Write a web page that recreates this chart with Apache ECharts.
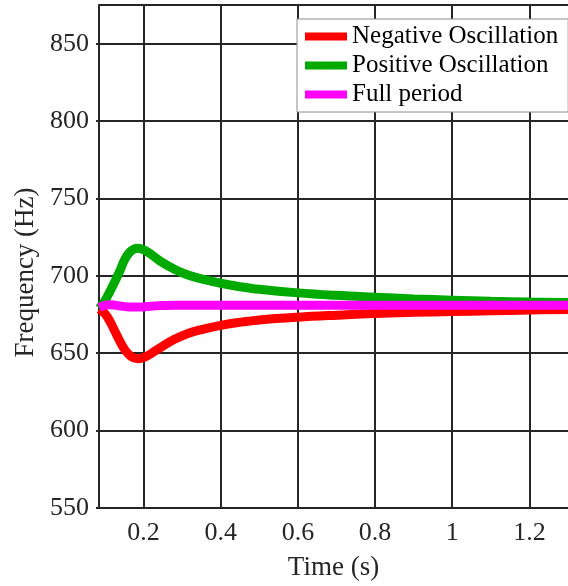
<!DOCTYPE html>
<html>
<head>
<meta charset="utf-8">
<script src="https://cdn.jsdelivr.net/npm/echarts@6/dist/echarts.min.js"></script>
<style>
  html, body { margin: 0; padding: 0; background: #fff; }
  #chart { width: 568px; height: 586px; }
</style>
</head>
<body>
<div id="chart"></div>
<script>
// time axis (s)
var timeValues = [0.085, 0.1, 0.113, 0.126, 0.14, 0.152, 0.165, 0.175, 0.185, 0.195, 0.21, 0.23, 0.246, 0.28, 0.315, 0.35, 0.4, 0.45, 0.5, 0.6, 0.7, 0.8, 0.9, 1.0, 1.1, 1.2, 1.3];
// frequency (Hz)
var negativeOsc = [678.5, 675.5, 670.5, 664, 657, 652, 648.5, 647, 646.5, 646.8, 648.3, 651.5, 654, 659, 662.8, 665.3, 668, 670, 671.5, 673.3, 674.6, 675.7, 676.4, 676.9, 677.4, 677.9, 678.3];
var positiveOsc = [679, 684, 690, 696.5, 704, 711, 715.5, 717.3, 717.8, 717.3, 715.5, 712, 709, 704.3, 700.5, 698, 695.2, 693, 691.3, 689, 687.4, 686.2, 685.1, 684.3, 683.6, 683.1, 682.7];
var fullPeriod = [679.5, 681, 681.4, 681.1, 680.5, 680.1, 679.9, 679.8, 679.8, 679.9, 680.2, 680.6, 680.8, 681, 681, 681, 681, 681, 681, 681, 681, 681, 681, 681, 681, 681, 681];
var xTicks = [0.2, 0.4, 0.6, 0.8, 1, 1.2];
var seriesNames = ['Negative Oscillation', 'Positive Oscillation', 'Full period'];
var colors = ['#ff0000', '#00aa00', '#ff00ff'];

function pairs(ys) {
    return timeValues.map(function (t, i) { return [t, ys[i]]; });
}

var font = "'Liberation Serif', 'Times New Roman', serif";
var dark = '#262626';

var myChart = echarts.init(document.getElementById('chart'));
var option = {
    backgroundColor: '#fff',
    animation: false,
    grid: { left: 99, top: 5, right: -1, bottom: 78 },
    legend: {
        orient: 'vertical',
        left: 297,
        top: 19,
        padding: [5, 10, 5, 8],
        itemGap: 4,
        itemWidth: 42,
        itemHeight: 8,
        icon: 'rect',
        backgroundColor: '#fff',
        borderColor: '#8c8c8c',
        borderWidth: 1,
        borderRadius: 0,
        textStyle: { fontFamily: font, fontSize: 25, color: '#000', lineHeight: 24 },
        data: seriesNames
    },
    xAxis: {
        type: 'value',
        min: 0.0845,
        max: 1.3,
        name: 'Time (s)',
        nameLocation: 'middle',
        nameGap: 46,
        nameTextStyle: { fontFamily: font, fontSize: 27, color: dark },
        axisLine: { show: true, lineStyle: { color: dark, width: 2 } },
        axisTick: { show: false, customValues: xTicks },
        axisLabel: { customValues: xTicks, fontFamily: font, fontSize: 26, color: dark, margin: 12 },
        splitLine: { show: true, lineStyle: { color: dark, width: 2 } }
    },
    yAxis: {
        type: 'value',
        min: 550,
        max: 875,
        interval: 50,
        name: 'Frequency (Hz)',
        nameLocation: 'middle',
        nameGap: 58,
        nameTextStyle: { fontFamily: font, fontSize: 27, color: dark, padding: [0, 32, 0, 0] },
        axisLine: { show: true, lineStyle: { color: dark, width: 2 } },
        axisTick: { show: true, length: 3, lineStyle: { color: dark, width: 2 } },
        axisLabel: { showMaxLabel: false, fontFamily: font, fontSize: 26, color: dark, margin: 10 },
        splitLine: { show: true, lineStyle: { color: dark, width: 2 } }
    },
    series: seriesNames.map(function (name, i) {
        return {
            name: name,
            type: 'line',
            data: pairs([negativeOsc, positiveOsc, fullPeriod][i]),
            smooth: 0.4,
            showSymbol: false,
            symbol: 'none',
            color: colors[i],
            lineStyle: { color: colors[i], width: 9 },
            z: 3 + i
        };
    })
};
myChart.setOption(option);
</script>
</body>
</html>
